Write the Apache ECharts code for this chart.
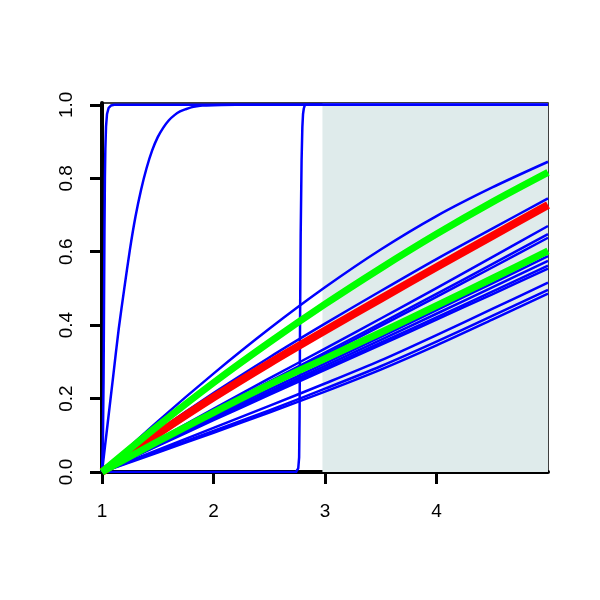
<!DOCTYPE html>
<html>
<head>
<meta charset="utf-8">
<script src="https://cdn.jsdelivr.net/npm/echarts@6/dist/echarts.min.js"></script>
<style>html,body{margin:0;padding:0;background:#fff}#c{width:600px;height:600px}</style>
</head>
<body>
<div id="c"></div>
<script>
// shared x positions for the smooth curves
const xs = [1, 1.5, 2, 2.5, 3, 3.5, 4, 4.5, 5];

// blue curves (values at xs)
const blue1  = [0, 0.138, 0.268, 0.390, 0.503, 0.606, 0.697, 0.775, 0.845];
const blue2  = [0, 0.111, 0.215, 0.312, 0.404, 0.493, 0.580, 0.663, 0.745];
const blue3  = [0, 0.087, 0.172, 0.255, 0.336, 0.418, 0.501, 0.585, 0.670];
const blue4  = [0, 0.084, 0.166, 0.246, 0.325, 0.405, 0.485, 0.566, 0.648];
const blue5  = [0, 0.082, 0.163, 0.242, 0.319, 0.398, 0.477, 0.557, 0.638];
const blue6  = [0, 0.077, 0.152, 0.225, 0.296, 0.368, 0.441, 0.514, 0.588];
const blue7  = [0, 0.075, 0.148, 0.219, 0.289, 0.360, 0.431, 0.503, 0.575];
const blue8  = [0, 0.073, 0.144, 0.214, 0.283, 0.352, 0.421, 0.491, 0.562];
const blue9  = [0, 0.071, 0.141, 0.210, 0.278, 0.346, 0.415, 0.484, 0.554];
const blue10 = [0, 0.060, 0.120, 0.180, 0.241, 0.304, 0.373, 0.444, 0.516];
const blue11 = [0, 0.056, 0.112, 0.168, 0.227, 0.288, 0.355, 0.425, 0.496];
const blue12 = [0, 0.053, 0.107, 0.162, 0.219, 0.279, 0.345, 0.415, 0.486];

// red and green highlighted curves
const red1   = [0, 0.104, 0.203, 0.296, 0.385, 0.472, 0.558, 0.643, 0.727];
const green1 = [0, 0.125, 0.243, 0.353, 0.457, 0.555, 0.648, 0.735, 0.816];
const green2 = [0, 0.083, 0.162, 0.238, 0.309, 0.380, 0.453, 0.527, 0.602];

// steep blue curves (own x positions)
const steepAx = [1, 1.008, 1.014, 1.018, 1.022, 1.026, 1.03, 1.036, 1.045, 1.06, 1.08, 1.11, 5];
const steepAy = [0, 0.08, 0.25, 0.45, 0.65, 0.80, 0.88, 0.94, 0.975, 0.992, 0.998, 1, 1];
const steepBx = [1, 1.05, 1.1, 1.15, 1.2, 1.25, 1.3, 1.35, 1.4, 1.45, 1.5, 1.55, 1.6, 1.65, 1.7, 1.75, 1.8, 1.85, 1.9, 2.0, 2.2, 5];
const steepBy = [0, 0.13, 0.26, 0.39, 0.50, 0.605, 0.695, 0.768, 0.828, 0.876, 0.912, 0.938, 0.958, 0.972, 0.982, 0.988, 0.993, 0.996, 0.998, 0.999, 1, 1];
const steepCx = [1, 2.74, 2.76, 2.768, 2.772, 2.776, 2.782, 2.79, 2.797, 2.803, 2.81, 2.82, 5];
const steepCy = [0, 0, 0.01, 0.04, 0.15, 0.40, 0.65, 0.85, 0.94, 0.975, 0.99, 1, 1];

// axis ticks and shaded band
const xTicks = [1, 2, 3, 4];
const yTicks = [0, 0.2, 0.4, 0.6, 0.8, 1.0];
const shadeFrom = 2.977;
const shadeTo = 5;

const pair = (x, y) => x.map((v, i) => [v, y[i]]);

const smoothBlues = [blue1, blue2, blue3, blue4, blue5, blue6, blue7, blue8, blue9, blue10, blue11, blue12];

const series = [];
series.push({
  type: 'line', data: [], silent: true,
  markArea: { silent: true, itemStyle: { color: '#DFEBEB' },
    data: [[{ xAxis: shadeFrom, yAxis: 0 }, { xAxis: shadeTo, yAxis: 1.005 }]] }
});
const lineBase = (data, color, width, smooth) => ({
  type: 'line', data, showSymbol: false, symbol: 'none', smooth,
  lineStyle: { color, width, cap: 'butt', join: 'round' }, silent: true
});
[[steepAx, steepAy], [steepCx, steepCy]].forEach(([x, y]) => {
  series.push(lineBase(pair(x, y), '#0000FF', 2.5, false));
});
series.push(lineBase(pair(steepBx, steepBy), '#0000FF', 2.5, 0.25));
smoothBlues.forEach(y => series.push(lineBase(pair(xs, y), '#0000FF', 2.5, 0.3)));
series.push(lineBase(pair(xs, red1), '#FF0000', 8, 0.3));
series.push(lineBase(pair(xs, green1), '#00FF00', 7, 0.3));
series.push(lineBase(pair(xs, green2), '#00FF00', 7, 0.3));

const chart = echarts.init(document.getElementById('c'), null, { renderer: 'canvas' });
chart.setOption({
  animation: false,
  backgroundColor: '#ffffff',
  grid: { left: 102, right: 52, top: 103, bottom: 128, show: true, borderColor: '#000', borderWidth: 1.5, backgroundColor: 'transparent' },
  xAxis: {
    type: 'value', min: 1, max: 5, interval: 1,
    axisLine: { show: true, onZero: false, lineStyle: { color: '#000', width: 4 } },
    axisTick: { show: true, length: 12, lineStyle: { color: '#000', width: 3 }, customValues: xTicks },
    axisLabel: { customValues: xTicks, color: '#000', fontSize: 19, fontFamily: 'Liberation Sans', margin: 30 },
    splitLine: { show: false }
  },
  yAxis: {
    type: 'value', min: 0, max: 1.005, interval: 0.2,
    axisLine: { show: true, onZero: false, lineStyle: { color: '#000', width: 4 } },
    axisTick: { show: true, length: 12, lineStyle: { color: '#000', width: 3 }, customValues: yTicks },
    axisLabel: { customValues: yTicks, rotate: 90, color: '#000', fontSize: 19, fontFamily: 'Liberation Sans', margin: 26,
      formatter: v => v.toFixed(1) },
    splitLine: { show: false }
  },
  series
});
</script>
</body>
</html>
